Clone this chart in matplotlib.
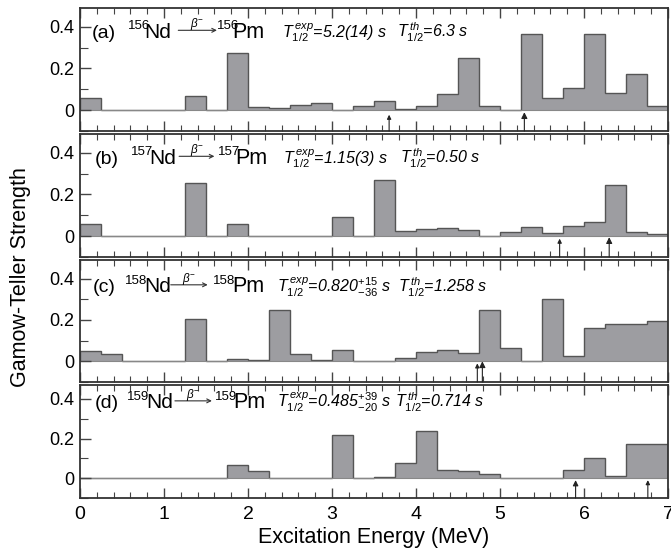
import numpy as np
import matplotlib
matplotlib.use('Agg')
import matplotlib.pyplot as plt
from matplotlib.ticker import MultipleLocator

plt.rcParams['font.family'] = ['Liberation Sans', 'DejaVu Sans']
plt.rcParams['mathtext.fontset'] = 'custom'
plt.rcParams['mathtext.rm'] = 'Liberation Sans'
plt.rcParams['mathtext.it'] = 'Liberation Sans:italic'
plt.rcParams['mathtext.bf'] = 'Liberation Sans:bold'

# 0.25 MeV bins from 0 to 7 MeV
edges = np.arange(0, 7.01, 0.25)

gt_156 = [0.06, 0.0, 0.0, 0.002, 0.0, 0.07, 0.003, 0.275, 0.016, 0.01, 0.027, 0.036, 0.0, 0.018,
          0.043, 0.006, 0.018, 0.078, 0.25, 0.022, 0.003, 0.365, 0.056, 0.108, 0.363, 0.084, 0.173, 0.02]
gt_157 = [0.059, 0.0, 0.0, 0.0, 0.0, 0.253, 0.0, 0.06, 0.0, 0.0, 0.0, 0.0, 0.091, 0.0,
          0.27, 0.024, 0.035, 0.038, 0.029, 0.0, 0.019, 0.042, 0.013, 0.048, 0.067, 0.243, 0.018, 0.008]
gt_158 = [0.05, 0.037, 0.0, 0.0, 0.0, 0.206, 0.0, 0.01, 0.005, 0.246, 0.033, 0.008, 0.056, 0.0,
          0.0, 0.016, 0.046, 0.056, 0.038, 0.25, 0.063, 0.0, 0.30, 0.024, 0.163, 0.179, 0.181, 0.195]
gt_159 = [0.0, 0.0, 0.0, 0.0, 0.0, 0.0, 0.0, 0.066, 0.036, 0.002, 0.0, 0.0, 0.217, 0.0,
          0.008, 0.076, 0.237, 0.041, 0.037, 0.022, 0.0, 0.0, 0.0, 0.039, 0.10, 0.01, 0.173, 0.173]

# arrow positions (MeV) and tip heights
arrows_156 = [(3.68, -0.022, 6), (5.29, -0.01, 9)]
arrows_157 = [(5.71, -0.012, 6), (6.30, -0.005, 9)]
arrows_158 = [(4.73, -0.01, 6), (4.79, 0.0, 9)]
arrows_159 = [(5.90, -0.01, 8), (6.76, -0.01, 6)]

labels = ['(a)', '(b)', '(c)', '(d)']
masses = ['156', '157', '158', '159']
t_exp = ['5.2(14)', '1.15(3)', r'0.820$^{+15}_{-36}$', r'0.485$^{+39}_{-20}$']
t_th = ['6.3', '0.50', '1.258', '0.714']

series = [gt_156, gt_157, gt_158, gt_159]
arrow_sets = [arrows_156, arrows_157, arrows_158, arrows_159]

# header layout per panel (MeV):
# label, Nd mass, Nd, arrow start, arrow end, Pm mass, Pm, T exp, T th, baseline
text_x = [
    (0.14, 0.57, 0.77, 1.17, 1.63, 1.63, 1.81, 2.40, 3.77, 0.348),
    (0.17, 0.61, 0.83, 1.18, 1.60, 1.64, 1.85, 2.42, 3.81, 0.348),
    (0.15, 0.54, 0.77, 1.08, 1.52, 1.58, 1.81, 2.35, 3.79, 0.335),
    (0.17, 0.56, 0.79, 1.13, 1.57, 1.61, 1.82, 2.34, 3.75, 0.355),
]

W, H = 671, 555
fig = plt.figure(figsize=(W / 100, H / 100), dpi=100)
rects_px = [(8, 131), (134, 257), (260, 382), (385, 498)]
ylims = [(-0.1, 0.49), (-0.1, 0.49), (-0.1, 0.49), (-0.1, 0.47)]

fill_c = '#9d9da1'
edge_c = '#555555'

for i in range(4):
    top, bot = rects_px[i]
    ax = fig.add_axes([80 / W, 1 - bot / H, (668 - 80) / W, (bot - top) / H])
    vals = np.array(series[i])
    ax.stairs(vals, edges, baseline=0, fill=True, color=fill_c, lw=0)
    ax.stairs(vals, edges, baseline=0, fill=False, color=edge_c, lw=1.0)
    ax.axhline(0, color='#888888', lw=0.8, zorder=1)

    for x, tip, ms in arrow_sets[i]:
        ax.annotate('', xy=(x, tip), xytext=(x, -0.1),
                    arrowprops=dict(arrowstyle='-|>', color='#222222', lw=0.8,
                                    mutation_scale=ms, shrinkA=0, shrinkB=0))

    ax.set_xlim(0, 7)
    ax.set_ylim(*ylims[i])
    ax.xaxis.set_major_locator(MultipleLocator(1))
    ax.xaxis.set_minor_locator(MultipleLocator(0.2))
    ax.yaxis.set_minor_locator(MultipleLocator(0.1))
    ax.set_yticks([0, 0.2, 0.4])
    ax.set_yticklabels(['0', '0.2', '0.4'])
    ax.tick_params(axis='x', which='both', direction='in', top=True, bottom=True, color='#444444')
    ax.tick_params(axis='x', which='major', length=7, width=1)
    ax.tick_params(axis='x', which='minor', length=4, width=0.8)
    ax.tick_params(axis='y', which='major', direction='in', length=8, width=1, color='#444444',
                   labelsize=13, pad=4)
    ax.tick_params(axis='y', which='minor', direction='in', length=6, width=0.8, color='#444444')
    for sp in ax.spines.values():
        sp.set_color('#333333')
        sp.set_linewidth(1.3)
    if i < 3:
        ax.tick_params(axis='x', labelbottom=False)
    else:
        ax.tick_params(axis='x', labelsize=14, pad=6)
        ax.set_xlabel('Excitation Energy (MeV)', fontsize=15.5, labelpad=3)

    # header text
    lx, m1, nd, a0, a1, m2, pm, tx, thx, yb = text_x[i]
    ax.text(lx, yb, labels[i], fontsize=14, va='baseline', ha='left')
    ax.text(m1, yb + 0.04, masses[i], fontsize=9.5, va='baseline', ha='left')
    ax.text(nd, yb, 'Nd', fontsize=15, va='baseline', ha='left')
    ax.annotate('', xy=(a1, yb + 0.035), xytext=(a0, yb + 0.035),
                arrowprops=dict(arrowstyle='->', color='#333333', lw=0.8, mutation_scale=7,
                                shrinkA=0, shrinkB=0))
    ax.text((a0 + a1) / 2, yb + 0.05, r'$\beta^{-}$', fontsize=8.5, ha='center', va='baseline')
    ax.text(m2, yb + 0.04, masses[i], fontsize=9.5, va='baseline', ha='left')
    ax.text(pm, yb, 'Pm', fontsize=15.5, va='baseline', ha='left')
    ax.text(tx, yb, r'$T^{\,exp}_{1/2}$=%s s' % t_exp[i], fontsize=11.5, style='italic',
            va='baseline', ha='left')
    ax.text(thx, yb, r'$T^{\,th}_{1/2}$=%s s' % t_th[i], fontsize=11.5, style='italic',
            va='baseline', ha='left')

fig.text(0.03, 0.50, 'Gamow-Teller Strength', rotation=90, fontsize=15.5, ha='center', va='center')

fig.savefig('out.png', dpi=100)
